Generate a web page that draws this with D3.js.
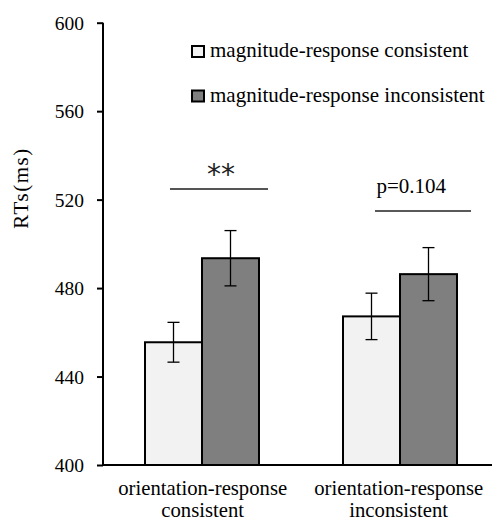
<!DOCTYPE html>
<html>
<head>
<meta charset="utf-8">
<script src="https://cdn.jsdelivr.net/npm/d3@7/dist/d3.min.js"></script>
<style>
  html, body { margin: 0; padding: 0; background: #fff; }
  svg { display: block; }
</style>
</head>
<body>
<svg id="chart" width="492" height="529"></svg>
<script>
// ---- data ----
const categories = ["orientation-response consistent", "orientation-response inconsistent"];
const categoryLines = [["orientation-response", "consistent"], ["orientation-response", "inconsistent"]];
const seriesNames = ["magnitude-response consistent", "magnitude-response inconsistent"];
const consistentMeans = [455.5, 467.2];
const inconsistentMeans = [493.5, 486.3];
const consistentErrors = [9, 10.5];
const inconsistentErrors = [12.5, 12];
const yTicks = [400, 440, 480, 520, 560, 600];
const sigLabels = ["**", "p=0.104"];
const sigLevels = [524.8, 514.9];

const seriesColors = ["#f2f2f2", "#7f7f7f"];
const SERIF = "Liberation Serif";

const svg = d3.select("#chart").attr("font-family", SERIF);

const y = d3.scaleLinear().domain([400, 600]).range([465, 22.7]);
const x0 = d3.scaleBand().domain(categories).range([103, 499]).padding(0);
const x1 = d3.scaleBand().domain(seriesNames).range([0, x0.bandwidth()]).paddingInner(0).paddingOuter(0.737);

const rows = categories.map((c, i) => ({
  cat: c,
  vals: [
    { s: seriesNames[0], v: consistentMeans[i], e: consistentErrors[i] },
    { s: seriesNames[1], v: inconsistentMeans[i], e: inconsistentErrors[i] }
  ]
}));

// bars
const g = svg.selectAll("g.grp").data(rows).enter().append("g")
  .attr("class", "grp")
  .attr("transform", d => `translate(${x0(d.cat)},0)`);

g.selectAll("rect").data(d => d.vals).enter().append("rect")
  .attr("x", d => x1(d.s))
  .attr("y", d => y(d.v))
  .attr("width", x1.bandwidth())
  .attr("height", d => y(400) - y(d.v))
  .attr("fill", (d, i) => seriesColors[i])
  .attr("stroke", "#000")
  .attr("stroke-width", 2);

// error bars
const eb = g.selectAll("g.eb").data(d => d.vals).enter().append("g").attr("class", "eb")
  .attr("stroke", "#000").attr("stroke-width", 1.3);
eb.append("line")
  .attr("x1", d => x1(d.s) + x1.bandwidth() / 2).attr("x2", d => x1(d.s) + x1.bandwidth() / 2)
  .attr("y1", d => y(d.v + d.e)).attr("y2", d => y(d.v - d.e));
eb.append("line")
  .attr("x1", d => x1(d.s) + x1.bandwidth() / 2 - 6).attr("x2", d => x1(d.s) + x1.bandwidth() / 2 + 6)
  .attr("y1", d => y(d.v + d.e)).attr("y2", d => y(d.v + d.e));
eb.append("line")
  .attr("x1", d => x1(d.s) + x1.bandwidth() / 2 - 6).attr("x2", d => x1(d.s) + x1.bandwidth() / 2 + 6)
  .attr("y1", d => y(d.v - d.e)).attr("y2", d => y(d.v - d.e));

// y axis
const yAxis = d3.axisLeft(y).tickValues(yTicks).tickSize(6).tickPadding(13).tickFormat(d3.format("d"));
const ya = svg.append("g").attr("transform", "translate(103,0)").call(yAxis)
  .attr("font-family", SERIF).attr("font-size", "19.5px");
ya.select(".domain").attr("stroke", "#000").attr("stroke-width", 2).attr("d", `M0,${y(600)}V${y(400)}`);
ya.selectAll(".tick line").attr("stroke", "#000").attr("stroke-width", 2);
ya.selectAll(".tick text").attr("font-family", SERIF).attr("font-size", "19.5px").attr("fill", "#000").attr("dy", "0.34em");

// x axis
const xAxis = d3.axisBottom(x0).tickSize(0).tickFormat("");
const xa = svg.append("g").attr("transform", `translate(0,${y(400)})`).call(xAxis);
xa.select(".domain").attr("stroke", "#000").attr("stroke-width", 2).attr("d", `M102,0H499`);

// x labels
const xl = svg.selectAll("text.xl").data(categories).enter().append("text")
  .attr("class", "xl")
  .attr("text-anchor", "middle")
  .attr("font-family", SERIF)
  .attr("font-size", "20.7px");
xl.each(function(d, i) {
  const t = d3.select(this);
  categoryLines[i].forEach((ln, j) => {
    t.append("tspan").attr("x", x0(d) + x0.bandwidth() / 2 + (i === 0 ? 0.7 : -1.3)).attr("y", 495 + j * 22).text(ln);
  });
});

// y label
svg.append("text")
  .attr("transform", "translate(28,188) rotate(-90)")
  .attr("text-anchor", "middle")
  .attr("font-family", SERIF)
  .attr("font-size", "21px")
  .attr("letter-spacing", "1.5px")
  .text("RTs(ms)");

// legend
const lg = svg.selectAll("g.lg").data(seriesNames).enter().append("g").attr("class", "lg")
  .attr("transform", (d, i) => `translate(192,${46 + i * 44.5})`);
lg.append("rect").attr("x", 0).attr("y", 0).attr("width", 12).attr("height", 11)
  .attr("fill", (d, i) => seriesColors[i]).attr("stroke", "#000").attr("stroke-width", 2);
lg.append("text").attr("x", 18).attr("y", 11.3).attr("font-family", SERIF).attr("font-size", "21px").text(d => d);

// significance annotations
const c0 = x0(categories[0]) + x0.bandwidth() / 2;
const c1 = x0(categories[1]) + x0.bandwidth() / 2;
svg.append("line").attr("x1", c0 - 32).attr("x2", c0 + 66).attr("y1", y(sigLevels[0])).attr("y2", y(sigLevels[0]))
  .attr("stroke", "#555").attr("stroke-width", 1.8);
svg.append("text").attr("x", c0 + 19).attr("y", 184).attr("text-anchor", "middle")
  .attr("font-family", "DejaVu Sans").attr("font-size", "28px").attr("fill", "#222").text(sigLabels[0]);
svg.append("line").attr("x1", c1 - 25).attr("x2", c1 + 71).attr("y1", y(sigLevels[1])).attr("y2", y(sigLevels[1]))
  .attr("stroke", "#222").attr("stroke-width", 1.5);
svg.append("text").attr("x", c1 - 23.5).attr("y", 193.3).attr("font-family", SERIF).attr("font-size", "21px").text(sigLabels[1]);
</script>
</body>
</html>
